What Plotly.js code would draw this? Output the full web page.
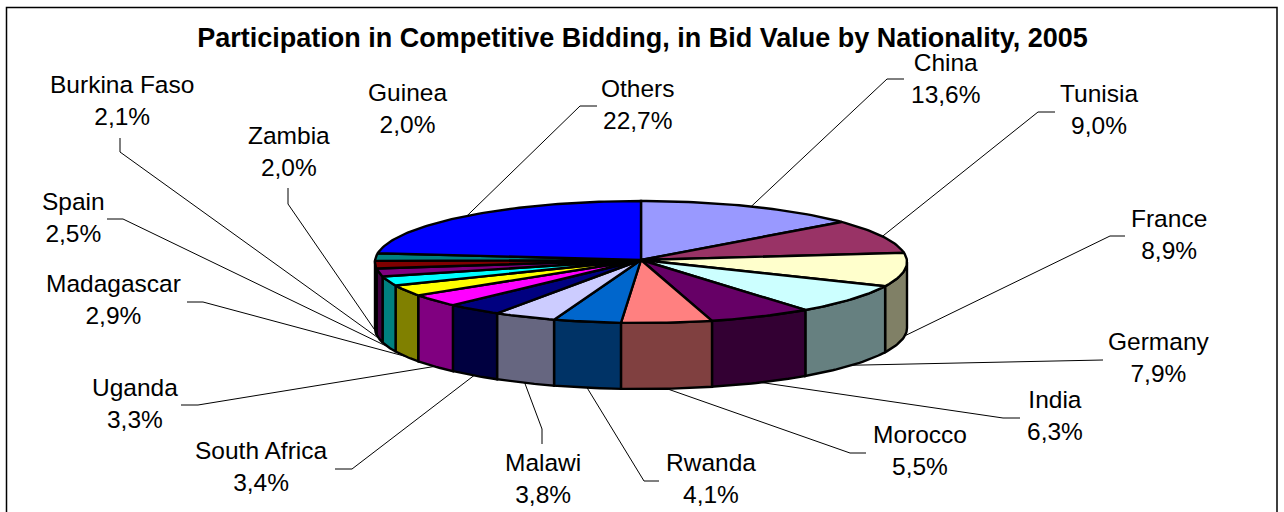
<!DOCTYPE html>
<html>
<head>
<meta charset="utf-8">
<script src="https://cdn.plot.ly/plotly-3.0.1.min.js"></script>
<style>html,body{margin:0;padding:0;background:#fff;overflow:hidden}#chart{width:1284px;height:512px}</style>
</head>
<body>
<div id="chart"></div>
<script>
const countries = ["China","Tunisia","France","Germany","India","Morocco","Rwanda","Malawi","South Africa","Uganda","Madagascar","Spain","Burkina Faso","Zambia","Guinea","Others"];
const shares = [13.6,9.0,8.9,7.9,6.3,5.5,4.1,3.8,3.4,3.3,2.9,2.5,2.1,2.0,2.0,22.7];
const topColors = ["#9999FF","#993366","#FFFFCC","#CCFFFF","#660066","#FF8080","#0066CC","#CCCCFF","#000080","#FF00FF","#FFFF00","#00FFFF","#800080","#800000","#008080","#0000FF"];
const wallColors = ["#4C4C80","#4C1933","#808066","#668080","#330033","#804040","#003366","#666680","#000040","#800080","#808000","#008080","#400040","#400000","#004040","#000080"];
const labelX = [945,1099,1169,1159,1055,920,711,543,261,135,113,73,122,289,407,638];
const labelY = [78,109,234,357,415,450,478,478,466,403,299,217,100,151,108,104];
const leaderBends = [
  [[904,79],[887,79]],[[1055,112],[1038,112]],[[1125,236],[1110,236]],[[1103,360]],
  [[1020,418],[1003,418]],[[866,453],[850,453]],[[659,481],[644,481]],[[542,444],[542,429]],
  [[335,469],[352,469]],[[181,405],[198,405]],[[187,302],[203,302]],[[107,219],[123,219]],
  [[120,138],[120,152]],[[288,188],[288,204]],null,[[597,106],[580,106]]
];
const titleText = "Participation in Competitive Bidding, in Bid Value by Nationality, 2005";

const cx = 641, cy = 262, rx = 266, ry = 61, depth = 66, apexY = 260;
const rimX = a => cx + rx * Math.sin(a);
const rimY = a => cy - ry * Math.cos(a);
const arc = (a0, a1) => { const n = Math.max(2, Math.ceil(Math.abs(a1 - a0) / 0.02)), o = []; for (let i = 0; i <= n; i++) o.push(a0 + (a1 - a0) * i / n); return o; };

const total = shares.reduce((s, v) => s + v, 0);
let run = 0;
const slices = shares.map(v => { const a0 = run / total * 2 * Math.PI; run += v; return { a0, a1: run / total * 2 * Math.PI }; });

const traces = [];
const edge = { color: "#000", width: 2.4 };

// leader lines
slices.forEach((s, i) => {
  if (!leaderBends[i]) return;
  const m = (s.a0 + s.a1) / 2;
  const front = Math.cos(m) < 0.13;
  const xs = leaderBends[i].map(p => p[0]).concat(rimX(m));
  const ys = leaderBends[i].map(p => p[1]).concat(rimY(m) + (front ? depth : 0));
  traces.push({ type: "scatter", mode: "lines", x: xs, y: ys, line: { color: "#000", width: 1 }, hoverinfo: "skip" });
});

// visible side walls
slices.forEach((s, i) => {
  const a0 = Math.max(s.a0, Math.PI / 2), a1 = Math.min(s.a1, 3 * Math.PI / 2);
  if (a1 <= a0) return;
  const t = arc(a0, a1), b = t.slice().reverse();
  traces.push({ type: "scatter", mode: "lines", fill: "toself", fillcolor: wallColors[i], line: edge, hoverinfo: "skip",
    x: t.map(rimX).concat(b.map(rimX), rimX(t[0])),
    y: t.map(rimY).concat(b.map(a => rimY(a) + depth), rimY(t[0])) });
});

// top surface
slices.forEach((s, i) => {
  const t = arc(s.a0, s.a1);
  traces.push({ type: "scatter", mode: "lines", fill: "toself", fillcolor: topColors[i], line: edge, hoverinfo: "skip",
    x: [cx].concat(t.map(rimX), cx),
    y: [apexY].concat(t.map(rimY), apexY) });
});

const annotations = countries.map((c, i) => ({
  x: labelX[i], y: labelY[i], xref: "x", yref: "y", showarrow: false, align: "center",
  xanchor: "center", yanchor: "middle",
  text: c + "<br>" + shares[i].toFixed(1).replace(".", ",") + "%",
  font: { family: "Liberation Sans, Arial, sans-serif", size: 24.5, color: "#000" }
}));

Plotly.newPlot("chart", traces, {
  width: 1284, height: 512, showlegend: false,
  margin: { l: 0, r: 0, t: 0, b: 0 },
  paper_bgcolor: "#fff", plot_bgcolor: "#fff",
  title: { text: "<b>" + titleText + "</b>", x: 642.5 / 1284, xanchor: "center", y: 1 - 38 / 512, yanchor: "middle",
    font: { family: "Liberation Sans, Arial, sans-serif", size: 27, color: "#000" } },
  xaxis: { range: [0, 1284], visible: false, fixedrange: true },
  yaxis: { range: [512, 0], visible: false, fixedrange: true },
  annotations,
  shapes: [{ type: "path", path: "M 6.5 513 L 6.5 7.5 L 1277 7.5 L 1277 513", xref: "x", yref: "y", line: { color: "#000", width: 1.5 } }]
}, { displayModeBar: false, staticPlot: true });
</script>
</body>
</html>
